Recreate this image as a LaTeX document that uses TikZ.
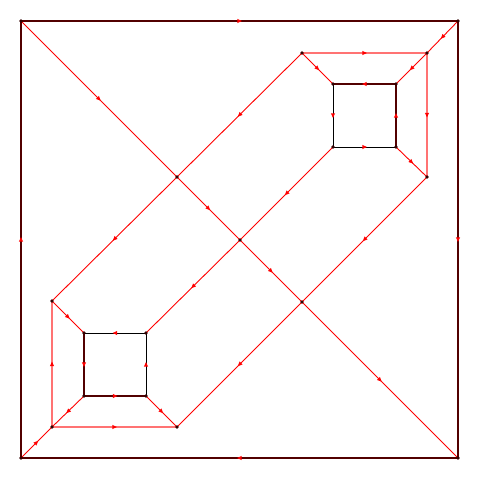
\documentclass[tikz,border=0pt]{standalone}
\usetikzlibrary{decorations.markings}
\tikzset{
  vtx/.style={circle,fill=black!80!red,inner sep=0pt,minimum size=3.8pt},
  midarr/.style={postaction={decorate,decoration={markings,
     mark=at position 0.5 with {\fill[red,fill opacity=1] (2.4pt,0) -- (-2.2pt,2.1pt) -- (-2.2pt,-2.1pt) -- cycle;}}}},
  redge/.style={draw=red,line width=0.9pt,midarr},
  thickedge/.style={draw=red,draw opacity=0.55,line width=2.2pt,midarr},
  darkunder/.style={draw=red,line width=2pt},
  darkedge/.style={draw=black,draw opacity=0.68,line width=1.1pt,midarr},
  blackedge/.style={draw=black,line width=1pt,midarr}
}
\begin{document}
\begin{tikzpicture}[x=1pt,y=-1pt]
\useasboundingbox (0,0) rectangle (480,480);
% coordinates
\coordinate (A) at (21,21);
\coordinate (B) at (458,21);
\coordinate (C) at (458,458);
\coordinate (D) at (21,458);
\coordinate (P1) at (177,177);
\coordinate (P2) at (240,240);
\coordinate (P3) at (302,302);
\coordinate (UA) at (302,53);
\coordinate (UB) at (427,53);
\coordinate (UC) at (427,177);
\coordinate (UTL) at (333,84);
\coordinate (UTR) at (396,84);
\coordinate (UBR) at (396,147);
\coordinate (UBL) at (333,147);
\coordinate (LA) at (52,301);
\coordinate (LB) at (52,427);
\coordinate (LC) at (177,427);
\coordinate (LTL) at (84,333);
\coordinate (LTR) at (146,333);
\coordinate (LBR) at (146,396);
\coordinate (LBL) at (84,396);
% red edges
\draw[redge] (A) -- (P1);
\draw[redge] (P1) -- (P2);
\draw[redge] (P2) -- (P3);
\draw[redge] (P3) -- (C);
\draw[redge] (B) -- (UB);
\draw[redge] (UB) -- (UTR);
\draw[redge] (UA) -- (UTL);
\draw[redge] (UBR) -- (UC);
\draw[redge] (UA) -- (P1);
\draw[redge] (P1) -- (LA);
\draw[redge] (UBL) -- (P2);
\draw[redge] (P2) -- (LTR);
\draw[redge] (UC) -- (P3);
\draw[redge] (P3) -- (LC);
\draw[redge] (LA) -- (LTL);
\draw[redge] (LBL) -- (LB);
\draw[redge] (LBR) -- (LC);
\draw[redge] (D) -- (LB);
% thick light red edges
\draw[thickedge] (UA) -- (UB);
\draw[thickedge] (UB) -- (UC);
\draw[thickedge] (LB) -- (LA);
\draw[thickedge] (LB) -- (LC);
% dark (black over red) edges
\draw[darkunder] (A) -- (B) -- (C) -- (D) -- cycle;
\draw[darkunder] (UTR) -- (UTL);
\draw[darkunder] (UBR) -- (UTR);
\draw[darkunder] (LTL) -- (LBL);
\draw[darkunder] (LBL) -- (LBR);
\draw[darkedge] (A) -- (B);
\draw[darkedge] (B) -- (C);
\draw[darkedge] (C) -- (D);
\draw[darkedge] (D) -- (A);
\draw[darkedge] (UTR) -- (UTL);
\draw[darkedge] (UBR) -- (UTR);
\draw[darkedge] (LTL) -- (LBL);
\draw[darkedge] (LBL) -- (LBR);
% black edges
\draw[blackedge] (UTL) -- (UBL);
\draw[blackedge] (UBL) -- (UBR);
\draw[blackedge] (LTR) -- (LTL);
\draw[blackedge] (LBR) -- (LTR);
% vertices
\foreach \p in {A,B,C,D,P1,P2,P3,UA,UB,UC,UTL,UTR,UBR,UBL,LA,LB,LC,LTL,LTR,LBR,LBL}
  \node[vtx] (v\p) at (\p) {};
\end{tikzpicture}
\end{document}
